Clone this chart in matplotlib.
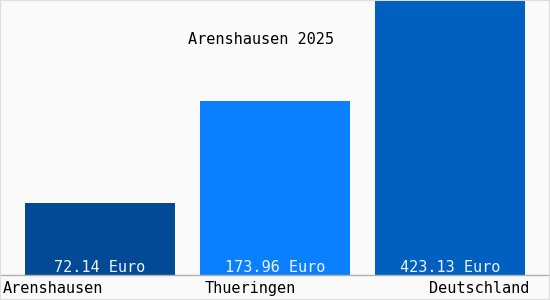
import matplotlib
matplotlib.use("Agg")
import matplotlib.pyplot as plt
from matplotlib.patches import Rectangle

categories = ["Arenshausen", "Thueringen", "Deutschland"]
values = [72.14, 173.96, 423.13]
value_labels = ["72.14 Euro", "173.96 Euro", "423.13 Euro"]
title = "Arenshausen 2025"
colors = ["#034a96", "#0a80ff", "#0060c0"]

W, H = 550, 300
fig = plt.figure(figsize=(W / 100, H / 100), dpi=100)
fig.patch.set_facecolor("#fafafa")
base_px = 275
ax = fig.add_axes([0, (H - base_px) / H, 1, base_px / H])
ax.set_facecolor("#fafafa")
x = list(range(len(categories)))
ax.bar(x, values, width=150 / 175, color=colors, zorder=2)
ax.set_xlim(-100 / 175, (W - 100) / 175)
ax.set_ylim(0, base_px)
for s in ["top", "left", "right"]:
    ax.spines[s].set_visible(False)
ax.spines["bottom"].set_color("#b0b0b0")
ax.spines["bottom"].set_linewidth(1)
ax.set_xticks([])
ax.set_yticks([])

font = dict(family="DejaVu Sans Mono", fontsize=11)
for xi, lab in zip(x, value_labels):
    ax.text(xi, 7, lab, ha="center", va="center", color="#eef2ff", zorder=3, **font)

# category labels below the baseline
fig.text(3 / W, 1 - 288.5 / H, categories[0], ha="left", va="center", color="#000000", **font)
fig.text(250 / W, 1 - 288.5 / H, categories[1], ha="center", va="center", color="#000000", **font)
fig.text(529 / W, 1 - 288.5 / H, categories[2], ha="right", va="center", color="#000000", **font)

fig.text(261 / W, 1 - 39 / H, title, ha="center", va="center", color="#000000", **font)

fig.patches.append(Rectangle((0, 0), 1, 1, transform=fig.transFigure, fill=False,
                             edgecolor="#dddddd", linewidth=1.5, zorder=10))
fig.savefig("out.png", dpi=100, facecolor=fig.get_facecolor())
